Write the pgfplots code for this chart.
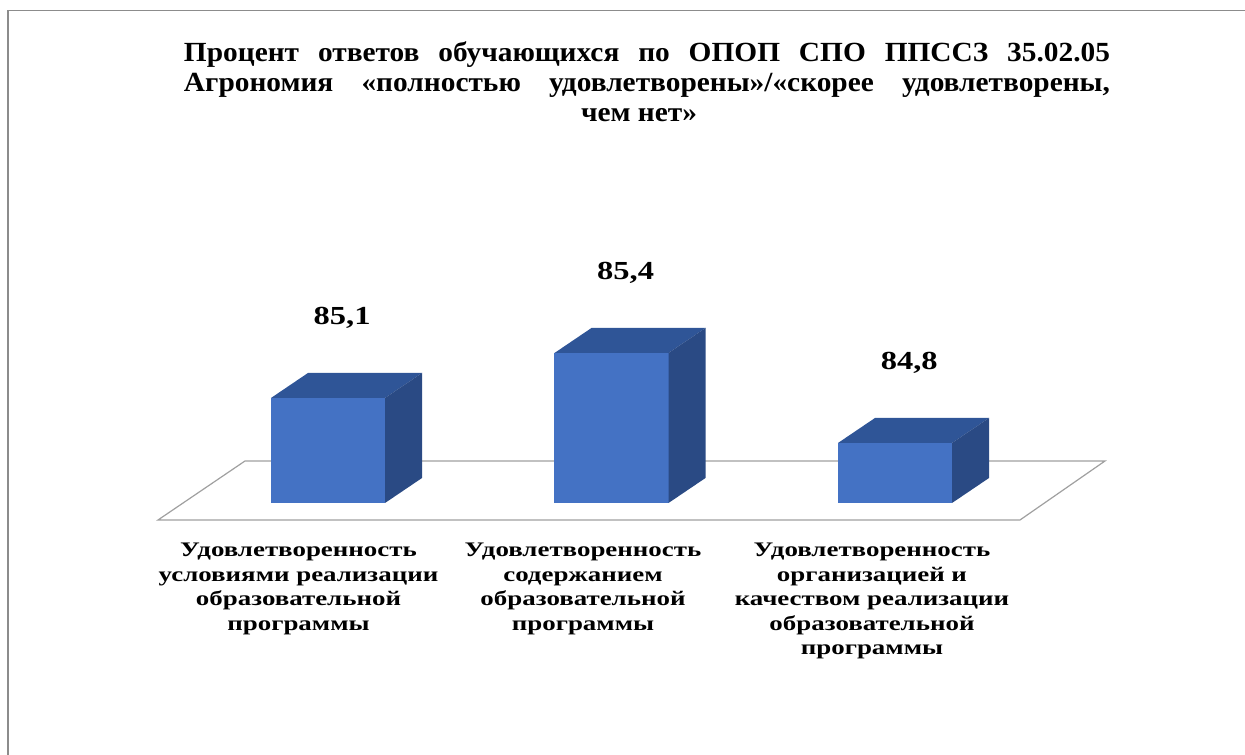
\documentclass[border=0pt]{standalone}
\usepackage{fontspec}
\setmainfont{Liberation Serif}
\usepackage{pgfplots}
\pgfplotsset{compat=1.18}
\newfontfamily\titlefam[FakeStretch=1.06]{Liberation Serif}
\newfontfamily\catfam[FakeStretch=1.3]{Liberation Serif}
\newfontfamily\valfam[FakeStretch=1.25]{Liberation Serif}
\newcommand\titlefont{\titlefam\bfseries\fontsize{27.7bp}{30bp}\selectfont}
\newcommand\catfont{\catfam\bfseries\fontsize{20.7bp}{24.5bp}\selectfont}
\newcommand\valfont{\valfam\bfseries\fontsize{26bp}{30bp}\selectfont}
\definecolor{frontc}{HTML}{4472C4}
\definecolor{topc}{HTML}{2F5597}
\definecolor{sidec}{HTML}{2A4A84}
\definecolor{floorc}{HTML}{A0A0A0}
\definecolor{framec}{HTML}{8C8C8C}
\begin{document}
\begin{tikzpicture}[x=1bp,y=1bp]
\path[use as bounding box] (0,0) rectangle (1245,755);
\draw[framec, line width=1.5bp] (8,0) -- (8,744.5) -- (1245,744.5);
\begin{axis}[at={(0,0)}, anchor=south west, scale only axis,
  width=1245bp, height=755bp,
  xmin=-1.15697, xmax=3.23457, ymin=82.72, ymax=87.75333,
  hide axis, clip=false]
% floor
\addplot[draw=floorc, fill=white, line width=1.2bp] coordinates
  {(-0.5996,84.2867) (2.4409,84.2867) (2.7407,84.68) (-0.2928,84.68)} -- cycle;
% bar 1 : 85.1
\addplot[draw=none, fill=frontc] coordinates
  {(-0.2011,84.4) (0.2011,84.4) (0.2011,85.1) (-0.2011,85.1)} -- cycle;
\addplot[draw=none, fill=topc] coordinates
  {(-0.2011,85.1) (0.2011,85.1) (0.3316,85.2667) (-0.0706,85.2667)} -- cycle;
\addplot[draw=none, fill=sidec] coordinates
  {(0.2011,84.4) (0.3316,84.5667) (0.3316,85.2667) (0.2011,85.1)} -- cycle;
% bar 2 : 85.4
\addplot[draw=none, fill=frontc] coordinates
  {(0.7989,84.4) (1.2011,84.4) (1.2011,85.4) (0.7989,85.4)} -- cycle;
\addplot[draw=none, fill=topc] coordinates
  {(0.7989,85.4) (1.2011,85.4) (1.3316,85.5667) (0.9294,85.5667)} -- cycle;
\addplot[draw=none, fill=sidec] coordinates
  {(1.2011,84.4) (1.3316,84.5667) (1.3316,85.5667) (1.2011,85.4)} -- cycle;
% bar 3 : 84.8
\addplot[draw=none, fill=frontc] coordinates
  {(1.7989,84.4) (2.2011,84.4) (2.2011,84.8) (1.7989,84.8)} -- cycle;
\addplot[draw=none, fill=topc] coordinates
  {(1.7989,84.8) (2.2011,84.8) (2.3316,84.9667) (1.9294,84.9667)} -- cycle;
\addplot[draw=none, fill=sidec] coordinates
  {(2.2011,84.4) (2.3316,84.5667) (2.3316,84.9667) (2.2011,84.8)} -- cycle;
% value labels
\addplot[draw=none, mark=none, point meta=y,
  nodes near coords={\pgfmathprintnumber[fixed, fixed zerofill, precision=1, use comma, assume math mode=true]{\pgfplotspointmeta}},
  nodes near coords style={font=\valfont, anchor=base, yshift=73bp, inner sep=0pt}]
  coordinates {(0.05,85.1) (1.05,85.4) (2.05,84.8)};
\end{axis}
% title
\node[anchor=base, inner sep=0pt, font=\titlefont] at (647,693.3)
  {\makebox[926bp][s]{Процент ответов обучающихся по ОПОП СПО ППССЗ 35.02.05}};
\node[anchor=base, inner sep=0pt, font=\titlefont] at (647,663.3)
  {\makebox[926bp][s]{Агрономия «полностью удовлетворены»/«скорее удовлетворены,}};
\node[anchor=base, inner sep=0pt, font=\titlefont] at (639,633.3) {чем нет»};
% category labels
\node[anchor=north, inner sep=0pt, align=center, font=\catfont] at (298.5,212)
  {Удовлетворенность\\условиями реализации\\образовательной\\программы};
\node[anchor=north, inner sep=0pt, align=center, font=\catfont] at (583,212)
  {Удовлетворенность\\содержанием\\образовательной\\программы};
\node[anchor=north, inner sep=0pt, align=center, font=\catfont] at (872,212)
  {Удовлетворенность\\организацией и\\качеством реализации\\образовательной\\программы};
\end{tikzpicture}
\end{document}
